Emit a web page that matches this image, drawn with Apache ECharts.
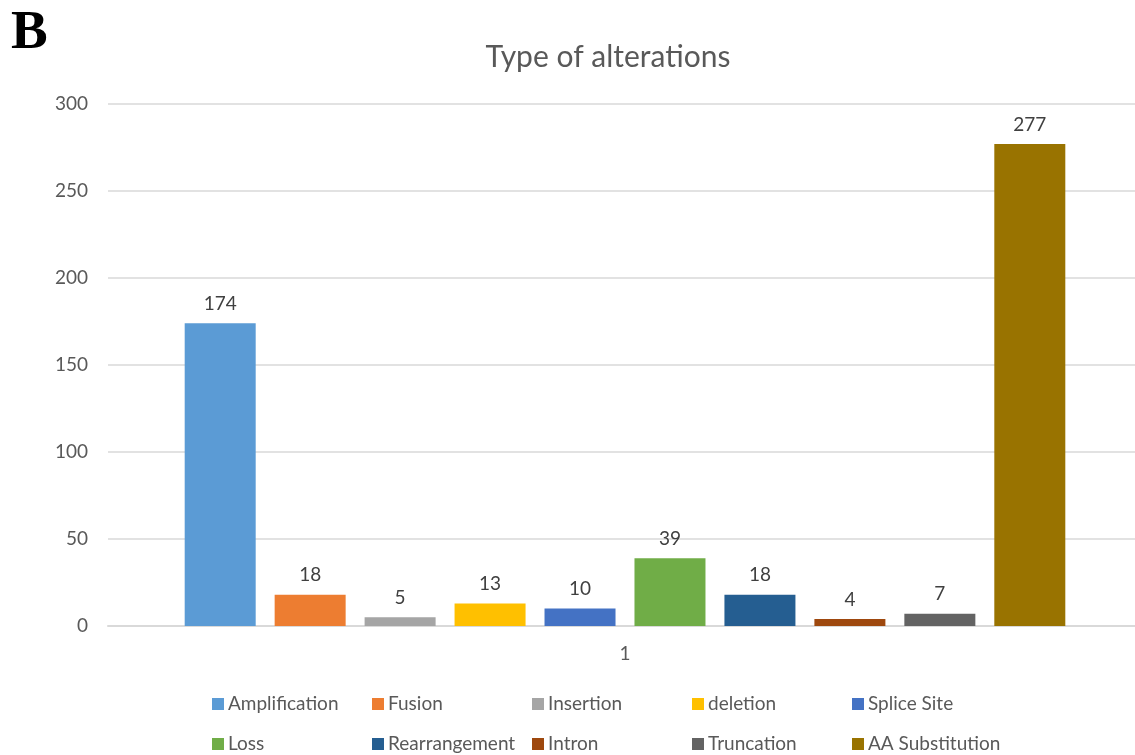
<!DOCTYPE html>
<html>
<head>
<meta charset="utf-8">
<script src="https://cdn.jsdelivr.net/npm/echarts@6/dist/echarts.min.js"></script>
<style>
  html, body { margin: 0; padding: 0; background: #fff; overflow: hidden; }
  #chart { width: 1150px; height: 755px; }
</style>
</head>
<body>
<div id="chart"></div>
<script>
var categories = ['1'];
var seriesNames = ['Amplification', 'Fusion', 'Insertion', 'deletion', 'Splice Site',
                   'Loss', 'Rearrangement', 'Intron', 'Truncation', 'AA Substitution'];
var seriesValues = [174, 18, 5, 13, 10, 39, 18, 4, 7, 277];
var seriesColors = ['#5B9BD5', '#ED7D31', '#A5A5A5', '#FFC000', '#4472C4',
                    '#70AD47', '#255E91', '#9E480E', '#636363', '#997300'];
var yTicks = [0, 50, 100, 150, 200, 250, 300];

var font = 'Lato';
var gray = '#595959';

var series = seriesNames.map(function (name, i) {
    return {
        name: name,
        type: 'bar',
        data: [seriesValues[i]],
        barWidth: 71,
        barGap: '26.7%',
        itemStyle: { color: seriesColors[i] },
        label: {
            show: true,
            position: 'top',
            distance: 10,
            color: '#404040',
            fontFamily: font,
            fontSize: 19
        }
    };
});

// chart div is a bit wider than the window so the plot runs off the right edge
var chart = echarts.init(document.getElementById('chart'));
chart.setOption({
    animation: false,
    title: {
        text: 'Type of alterations',
        left: 603,
        textAlign: 'center',
        top: 37,
        textStyle: { color: gray, fontFamily: font, fontSize: 30, fontWeight: 'normal' }
    },
    graphic: [{
        type: 'text',
        left: 11,
        top: 6,
        style: { text: 'B', font: 'bold 55px "Liberation Serif"', fill: '#000' }
    }],
    legend: {
        orient: 'horizontal',
        left: 207,
        top: 681,
        width: 815,
        itemWidth: 12,
        itemHeight: 12,
        itemGap: 4,
        icon: 'rect',
        data: seriesNames,
        textStyle: {
            color: gray, fontFamily: font, fontSize: 19,
            width: 140, lineHeight: 36, padding: [0, 0, 0, -1]
        }
    },
    grid: { left: 108, right: 8, top: 104, bottom: 129, containLabel: false },
    xAxis: {
        type: 'category',
        data: categories,
        axisTick: { show: false },
        axisLine: { lineStyle: { color: '#d9d9d9', width: 2 } },
        axisLabel: { color: gray, fontFamily: font, fontSize: 19, margin: 18 }
    },
    yAxis: {
        type: 'value',
        min: yTicks[0],
        max: yTicks[yTicks.length - 1],
        interval: 50,
        axisLine: { show: false },
        axisTick: { show: false },
        splitLine: { lineStyle: { color: '#d9d9d9', width: 1.5 } },
        axisLabel: { color: gray, fontFamily: font, fontSize: 19, margin: 20 }
    },
    series: series
});
</script>
</body>
</html>
